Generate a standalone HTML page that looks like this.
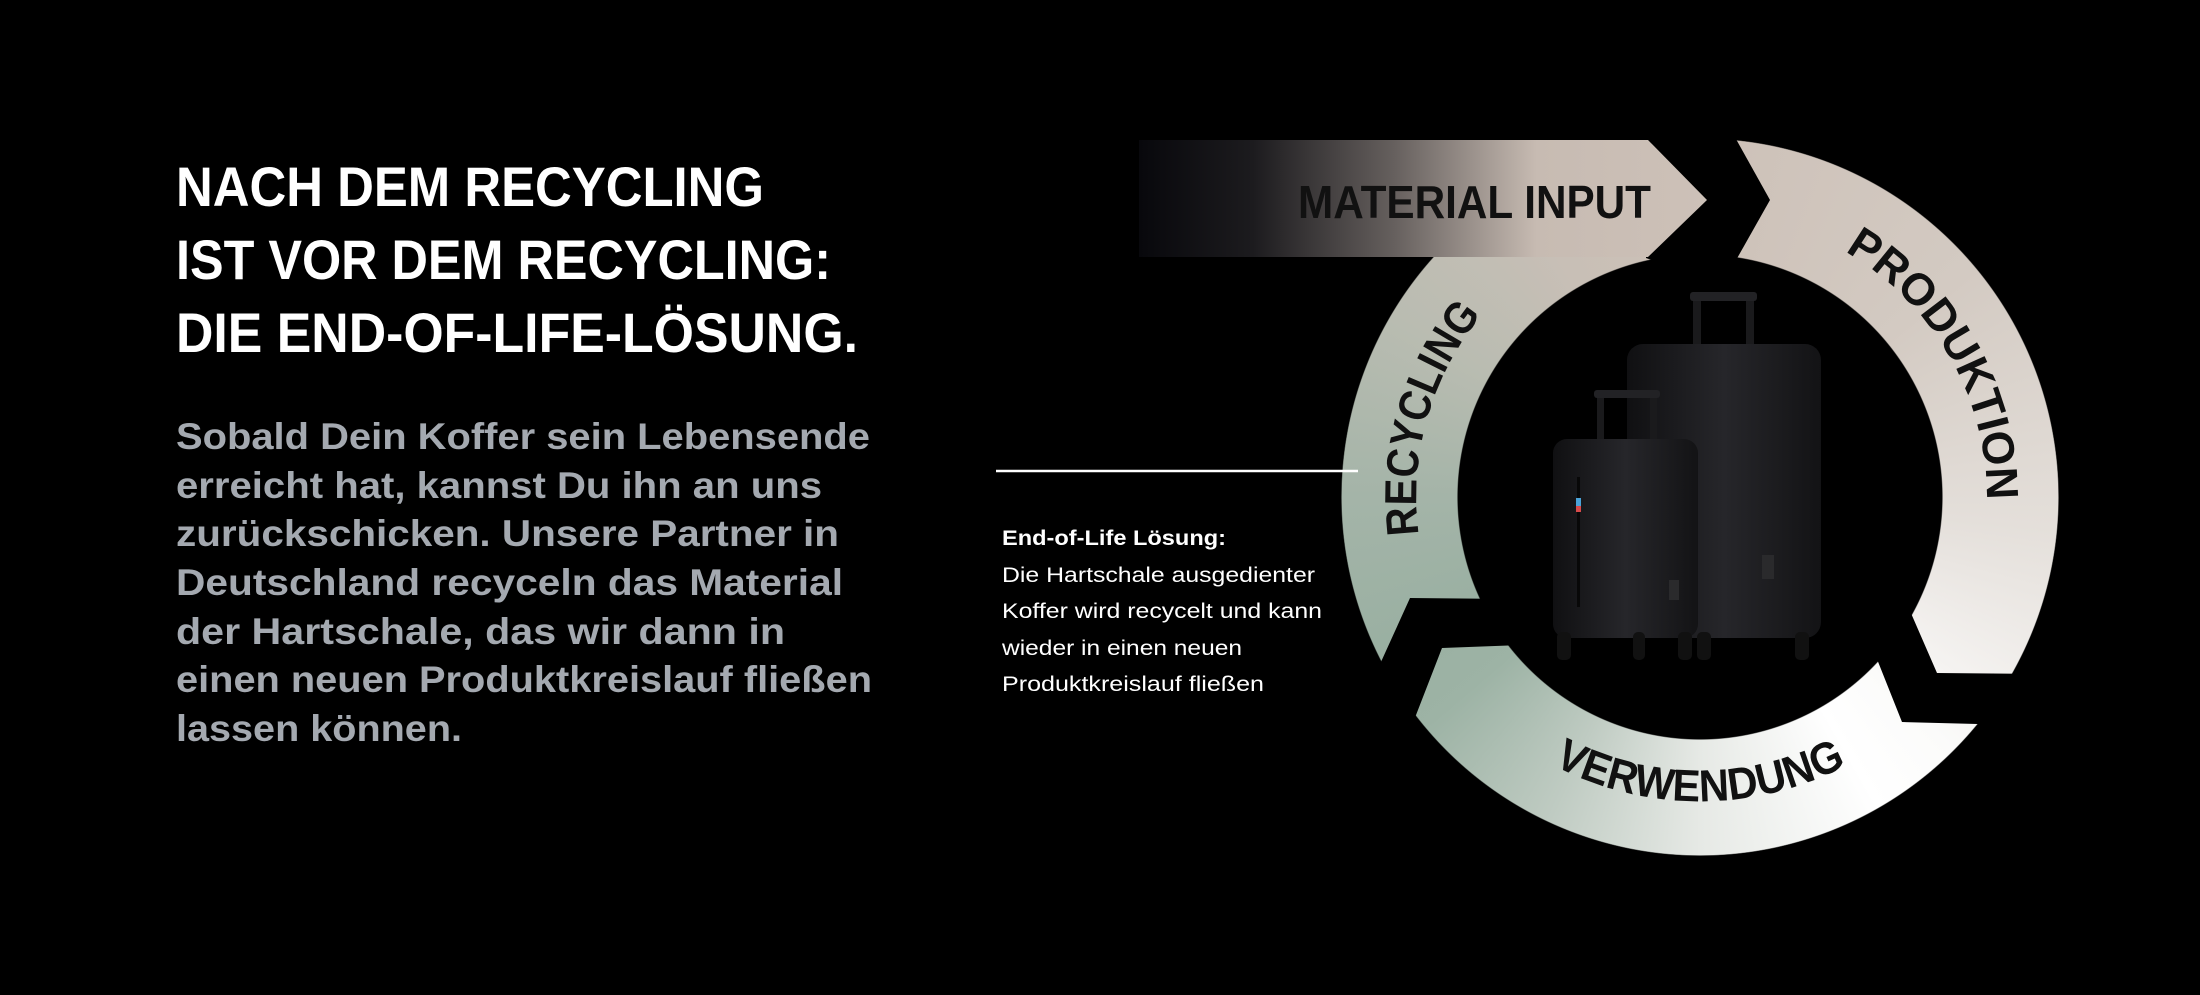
<!DOCTYPE html>
<html><head><meta charset="utf-8"><style>
html,body{margin:0;padding:0;background:#000;width:2200px;height:995px;overflow:hidden}
#ring{position:absolute;left:1341px;top:138px;width:718px;height:718px;border-radius:50%;
background:conic-gradient(from 0deg,#cdc1b8 0deg,#d3cac2 50deg,#e4dfda 95deg,#f5f3f1 125deg,#fbfbfa 135deg,#ffffff 150deg,#e6e9e5 180deg,#bfcbc2 205deg,#9db3a5 230deg,#9ab0a2 245deg,#a4b4a8 270deg,#b9bcb1 300deg,#c8bfb6 330deg,#cdc1b8 360deg);
-webkit-mask:radial-gradient(circle,transparent 242px,#000 243px,#000 358px,transparent 359px);
mask:radial-gradient(circle,transparent 242px,#000 243px,#000 358px,transparent 359px)}
svg{position:absolute;left:0;top:0}
</style></head><body>
<div id="ring"></div>
<svg width="2200" height="995" viewBox="0 0 2200 995" xmlns="http://www.w3.org/2000/svg">
<defs>
<linearGradient id="bar" x1="1139" y1="0" x2="1707" y2="0" gradientUnits="userSpaceOnUse">
<stop offset="0" stop-color="#08080c"/>
<stop offset="0.2" stop-color="#1c1b1e"/>
<stop offset="0.45" stop-color="#66605e"/>
<stop offset="0.7" stop-color="#c7bbb2"/>
<stop offset="1" stop-color="#cdc1b8"/>
</linearGradient>
<linearGradient id="case" x1="0" y1="0" x2="1" y2="0">
<stop offset="0" stop-color="#101012"/>
<stop offset="0.5" stop-color="#26262a"/>
<stop offset="1" stop-color="#131315"/>
</linearGradient>
<path id="pPro" d="M 1720 214 A 284 284 0 0 1 1955.8 626.5"/>
<path id="pRec" d="M 1440 610 A 284 284 0 0 1 1540 262"/>
<path id="pVer" d="M 1458.5 689.1 A 316 316 0 0 0 1941.5 689.1"/>
</defs>

<!-- gaps -->
<polygon fill="#000" points="2049,674 1937,673 1897,581 1867,634 1902,722 2016,725"/>
<polygon fill="#000" points="1404,746 1442,648 1547,644 1513,599 1410,598 1366,695"/>
<polygon fill="#000" points="1646,105 1717,105 1770,200 1722,285 1646,258"/>

<!-- material input bar -->
<polygon fill="url(#bar)" points="1139,140 1648,140 1707,200 1648,257 1139,257"/>
<text x="1298" y="218" font-family="Liberation Sans, sans-serif" font-weight="bold" font-size="46" fill="#111" textLength="353" lengthAdjust="spacingAndGlyphs">MATERIAL INPUT</text>

<!-- ring labels -->
<text font-family="Liberation Sans, sans-serif" font-weight="bold" font-size="45" fill="#111"><textPath href="#pPro" startOffset="50%" text-anchor="middle" textLength="300" lengthAdjust="spacingAndGlyphs">PRODUKTION</textPath></text>
<text font-family="Liberation Sans, sans-serif" font-weight="bold" font-size="45" fill="#111"><textPath href="#pRec" startOffset="50%" text-anchor="middle" textLength="235" lengthAdjust="spacingAndGlyphs">RECYCLING</textPath></text>
<text font-family="Liberation Sans, sans-serif" font-weight="bold" font-size="45" fill="#111"><textPath href="#pVer" startOffset="50%" text-anchor="middle" textLength="305" lengthAdjust="spacingAndGlyphs">VERWENDUNG</textPath></text>

<!-- suitcases -->
<g>
<rect x="1693" y="295" width="8" height="55" fill="#1a1a1c"/>
<rect x="1746" y="295" width="8" height="55" fill="#1a1a1c"/>
<rect x="1690" y="292" width="67" height="9" rx="3" fill="#222225"/>
<rect x="1627" y="344" width="194" height="294" rx="16" fill="url(#case)"/>
<rect x="1762" y="555" width="12" height="24" fill="#2a2a2c"/>
<rect x="1795" y="632" width="14" height="28" rx="5" fill="#111"/>
<rect x="1697" y="632" width="14" height="28" rx="5" fill="#111"/>
<rect x="1597" y="393" width="7" height="50" fill="#1a1a1c"/>
<rect x="1650" y="393" width="7" height="50" fill="#1a1a1c"/>
<rect x="1594" y="390" width="66" height="8" rx="3" fill="#222225"/>
<rect x="1553" y="439" width="145" height="199" rx="14" fill="url(#case)"/>
<rect x="1577" y="477" width="3" height="130" fill="#080808"/>
<rect x="1576" y="498" width="5" height="8" fill="#4aa3d8"/>
<rect x="1576" y="506" width="5" height="6" fill="#d84a4a"/>
<rect x="1669" y="580" width="10" height="20" fill="#2a2a2c"/>
<rect x="1557" y="632" width="14" height="28" rx="5" fill="#111"/>
<rect x="1633" y="632" width="12" height="28" rx="5" fill="#111"/>
<rect x="1678" y="632" width="14" height="28" rx="5" fill="#111"/>
</g>

<!-- connector -->
<line x1="996" y1="471" x2="1358" y2="471" stroke="#fff" stroke-width="2.5"/>

<!-- caption -->
<g font-family="Liberation Sans, sans-serif" font-size="21" fill="#fff">
<text x="1002" y="545" font-weight="bold" textLength="224" lengthAdjust="spacingAndGlyphs">End-of-Life Lösung:</text>
<text x="1002" y="582" textLength="313" lengthAdjust="spacingAndGlyphs">Die Hartschale ausgedienter</text>
<text x="1002" y="618" textLength="320" lengthAdjust="spacingAndGlyphs">Koffer wird recycelt und kann</text>
<text x="1002" y="655" textLength="240" lengthAdjust="spacingAndGlyphs">wieder in einen neuen</text>
<text x="1002" y="691" textLength="262" lengthAdjust="spacingAndGlyphs">Produktkreislauf fließen</text>
</g>

<!-- heading -->
<g font-family="Liberation Sans, sans-serif" font-weight="bold" font-size="56" fill="#fff">
<text x="176" y="206" textLength="588" lengthAdjust="spacingAndGlyphs">NACH DEM RECYCLING</text>
<text x="176" y="279" textLength="655" lengthAdjust="spacingAndGlyphs">IST VOR DEM RECYCLING:</text>
<text x="176" y="352" textLength="682" lengthAdjust="spacingAndGlyphs">DIE END-OF-LIFE-LÖSUNG.</text>
</g>

<!-- paragraph -->
<g font-family="Liberation Sans, sans-serif" font-weight="bold" font-size="37" fill="#a4a9b0">
<text x="176" y="449" textLength="694" lengthAdjust="spacingAndGlyphs">Sobald Dein Koffer sein Lebensende</text>
<text x="176" y="498" textLength="646" lengthAdjust="spacingAndGlyphs">erreicht hat, kannst Du ihn an uns</text>
<text x="176" y="546" textLength="663" lengthAdjust="spacingAndGlyphs">zurückschicken. Unsere Partner in</text>
<text x="176" y="595" textLength="667" lengthAdjust="spacingAndGlyphs">Deutschland recyceln das Material</text>
<text x="176" y="644" textLength="609" lengthAdjust="spacingAndGlyphs">der Hartschale, das wir dann in</text>
<text x="176" y="692" textLength="696" lengthAdjust="spacingAndGlyphs">einen neuen Produktkreislauf fließen</text>
<text x="176" y="741" textLength="286" lengthAdjust="spacingAndGlyphs">lassen können.</text>
</g>
</svg>
</body></html>
